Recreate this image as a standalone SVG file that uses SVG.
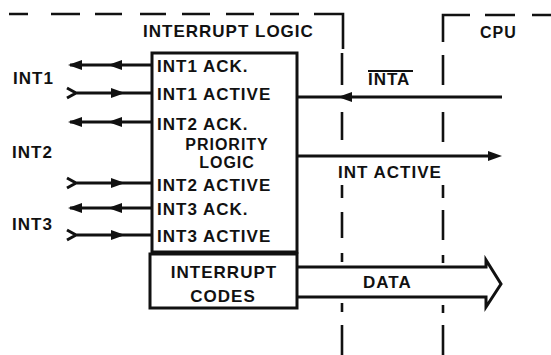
<svg xmlns="http://www.w3.org/2000/svg" width="551" height="355" viewBox="0 0 551 355">
  <style>
    .t { font-family: "Liberation Sans", Arial, sans-serif; font-weight: bold; font-size: 17px; letter-spacing: 1px; fill: #111; }
    .c { text-anchor: middle; }
    .s { font-size: 16px; }
    .ln { stroke: #111; stroke-width: 3; fill: none; }
    .dash { stroke: #111; stroke-width: 2.6; fill: none; }
    .box { stroke: #111; stroke-width: 3; fill: #fff; }
    .head { fill: #111; }
  </style>
  <defs>
    <!-- filled arrowhead, tip at origin, pointing to +x -->
    <path id="ah" d="M0,0 L-14,-5 L-14,5 Z"/>
  </defs>

  <rect width="551" height="355" fill="#fff"/>

  <!-- boundary of the interrupt logic and the CPU -->
  <g id="boundaries">
    <path class="dash" d="M9,14 H28 M51,14 H80 M95,14 H122 M140,14 H166 M182,14 H210 M226,14 H254 M270,14 H299 M314,14 H343 V49"/>
    <path class="dash" d="M342,53 V85 M342,112 V140 M342,185 V198 M342,212 V238 M342,253 V262 M342,303 V312 M342,325 V355"/>
    <path class="dash" d="M443,42 V15 H470 M485,15 H515 M532,15 H551"/>
    <path class="dash" d="M443,55 V85 M443,112 V142 M443,185 V198 M443,210 V240 M443,255 V263 M443,305 V313 M443,325 V355"/>
    <text class="t" x="143" y="37">INTERRUPT LOGIC</text>
    <text class="t s" x="480" y="38">CPU</text>
  </g>

  <!-- priority logic block -->
  <g id="priority-logic">
    <rect class="box" x="152" y="53" width="145" height="199"/>
    <text class="t" x="157" y="72">INT1 ACK.</text>
    <text class="t" x="157" y="100">INT1 ACTIVE</text>
    <text class="t" x="157" y="130">INT2 ACK.</text>
    <text class="t c s" x="227" y="150">PRIORITY</text>
    <text class="t c s" x="227" y="168">LOGIC</text>
    <text class="t" x="157" y="191">INT2 ACTIVE</text>
    <text class="t" x="157" y="215">INT3 ACK.</text>
    <text class="t" x="157" y="242">INT3 ACTIVE</text>
  </g>

  <!-- interrupt code block -->
  <g id="interrupt-codes">
    <rect class="box" x="150" y="254" width="147" height="54"/>
    <text class="t c" x="224" y="278">INTERRUPT</text>
    <text class="t c" x="223" y="302">CODES</text>
  </g>

  <!-- interrupt source labels -->
  <g id="int1"><text class="t" x="13" y="84">INT1</text></g>
  <g id="int2"><text class="t" x="12" y="158">INT2</text></g>
  <g id="int3"><text class="t" x="12" y="230">INT3</text></g>

  <g id="connectors">
    <!-- acknowledge outputs -->
    <path class="ln" d="M70,65 H152 M70,122 H152 M70,208 H152"/>
    <use href="#ah" class="head" transform="translate(68,65) rotate(180)"/>
    <use href="#ah" class="head" transform="translate(108,65) rotate(180)"/>
    <use href="#ah" class="head" transform="translate(68,122) rotate(180)"/>
    <use href="#ah" class="head" transform="translate(108,122) rotate(180)"/>
    <use href="#ah" class="head" transform="translate(68,208) rotate(180)"/>
    <use href="#ah" class="head" transform="translate(108,208) rotate(180)"/>

    <!-- active inputs -->
    <path class="ln" d="M67,88 L76,93 L67,98 M76,93 H152"/>
    <path class="ln" d="M67,178 L76,183 L67,188 M76,183 H152"/>
    <path class="ln" d="M67,230 L76,235 L67,240 M76,235 H152"/>
    <use href="#ah" class="head" transform="translate(125,93)"/>
    <use href="#ah" class="head" transform="translate(125,183)"/>
    <use href="#ah" class="head" transform="translate(125,235)"/>

    <!-- INTA from the CPU -->
    <path class="ln" d="M297,97 H502"/>
    <use href="#ah" class="head" transform="translate(338,97) rotate(180)"/>
    <text class="t" x="368" y="85">INTA</text>
    <line x1="368" y1="71" x2="413" y2="71" stroke="#111" stroke-width="2"/>

    <!-- INT ACTIVE to the CPU -->
    <path class="ln" d="M297,156 H490"/>
    <use href="#ah" class="head" transform="translate(502,156)"/>
    <text class="t" x="338" y="178">INT ACTIVE</text>

    <!-- data bus -->
    <path class="ln" d="M297,267 H486 V260 L501,284 L486,307 V297 H297" stroke-linejoin="miter"/>
    <text class="t" x="363" y="288">DATA</text>
  </g>
</svg>
